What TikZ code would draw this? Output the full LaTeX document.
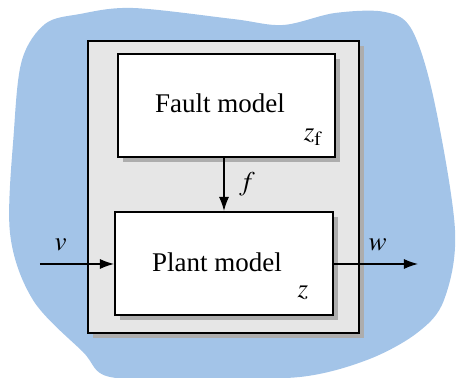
\documentclass[tikz,border=0pt]{standalone}
\usepackage{mathptmx}
\usepackage{fontspec}
\setmainfont{Liberation Serif}
\usetikzlibrary{shadows, arrows.meta}

\definecolor{blobblue}{RGB}{163,196,232}
\definecolor{framegray}{RGB}{230,230,230}

\tikzset{
  shade box/.style={drop shadow={shadow xshift=2.5pt, shadow yshift=-2.5pt, fill=black!32, opacity=1}},
  modelbox/.style={draw, line width=1pt, fill=white, shade box, font=\fontsize{13.5}{16}\selectfont},
  signal/.style={-{Latex[length=7pt,width=5pt]}, line width=0.6pt},
  siglabel/.style={font=\fontsize{13.5}{16}\selectfont}
}

\begin{document}
\begin{tikzpicture}[x=0.5pt, y=-0.5pt]
        \useasboundingbox (0,0) rectangle (457,378);

        % background region
        \fill[blobblue] plot[smooth cycle, tension=0.55] coordinates {
            (22,60) (45,24) (80,14) (133,8) (233,19) (283,25) (335,13) (385,12) (412,30)
            (434,100) (455,230) (444,300) (417,333) (367,360) (300,377) (200,378)
            (110,377) (83,352) (33,300) (10,233) (14,130)};

        % model frame
        \draw[fill=framegray, line width=1pt, shade box] (88,41) rectangle (359,333);

        \node[modelbox, minimum width=108.5pt, minimum height=51.5pt] (fault) at (226.5,105.5) {};
        \node[modelbox, minimum width=109pt, minimum height=51.5pt] (plant) at (224,263.5) {};

        \node[siglabel] (faulttxt) at (220,103) {Fault model};
        \node[siglabel] (zf) at (313,137) {$z_\mathrm{f}$};
        \node[siglabel] (planttxt) at (217,262) {Plant model};
        \node[siglabel] (z) at (303,293) {$z$};

        \coordinate (in) at (40,264);
        \coordinate (out) at (418,264);

        \draw[signal] (fault.south -| 224,0) -- (plant.north -| 224,0)
            node[midway, right=4pt, siglabel] (flab) {$f$};
        \draw[signal] (in) -- (plant.west |- in) node[pos=0.28, above=3pt, siglabel] (vlab) {$v$};
        \draw[signal] (plant.east |- out) -- (out) node[pos=0.52, above=3pt, siglabel] (wlab) {$w$};
\end{tikzpicture}
\end{document}
